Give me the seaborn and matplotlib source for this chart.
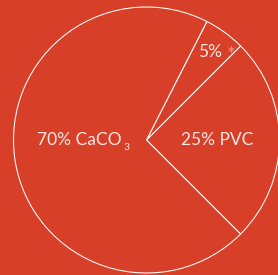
import matplotlib.pyplot as plt
import seaborn as sns

sns.set_theme(style="white")
plt.rcParams['font.family'] = ['Lato', 'DejaVu Sans']

# slice data (counter-clockwise from -45 degrees)
labels = ["25% PVC", "5%", "70% CaCO"]
shares = [25, 5, 70]

bg = "#D83F28"

fig = plt.figure(figsize=(2.78, 2.75), dpi=100, facecolor=bg)
ax = fig.add_axes([0, 0, 1, 1])
ax.set_facecolor(bg)

ax.pie(shares, startangle=-45, counterclock=True, radius=1,
       colors=[bg] * len(shares),
       wedgeprops=dict(edgecolor="white", linewidth=0.75))

# map center to pixel (146.5, 140), radius 133 px
s = 133
ax.set_xlim(-146.5 / s, (278 - 146.5) / s)
ax.set_ylim(-(275 - 140) / s, 140 / s)
ax.set_aspect('auto')
ax.axis('off')

txt = dict(color="#FBE9E4", fontsize=12.5, va="center", fontweight="normal")
ax.text(0.53, 0.0, labels[0], ha="center", **txt)
ax.text(-0.185, 0.0, labels[2], ha="right", **txt)
ax.text(-0.175, -0.06, "3", ha="left", color="#FBE9E4", fontsize=7.5, va="center")
ax.text(0.565, 0.66, labels[1], ha="right", **txt)
ax.text(0.635, 0.63, "*", color="#EE9A88", fontsize=15, ha="center", va="center")

fig.savefig("out.png", dpi=100, facecolor=bg)
